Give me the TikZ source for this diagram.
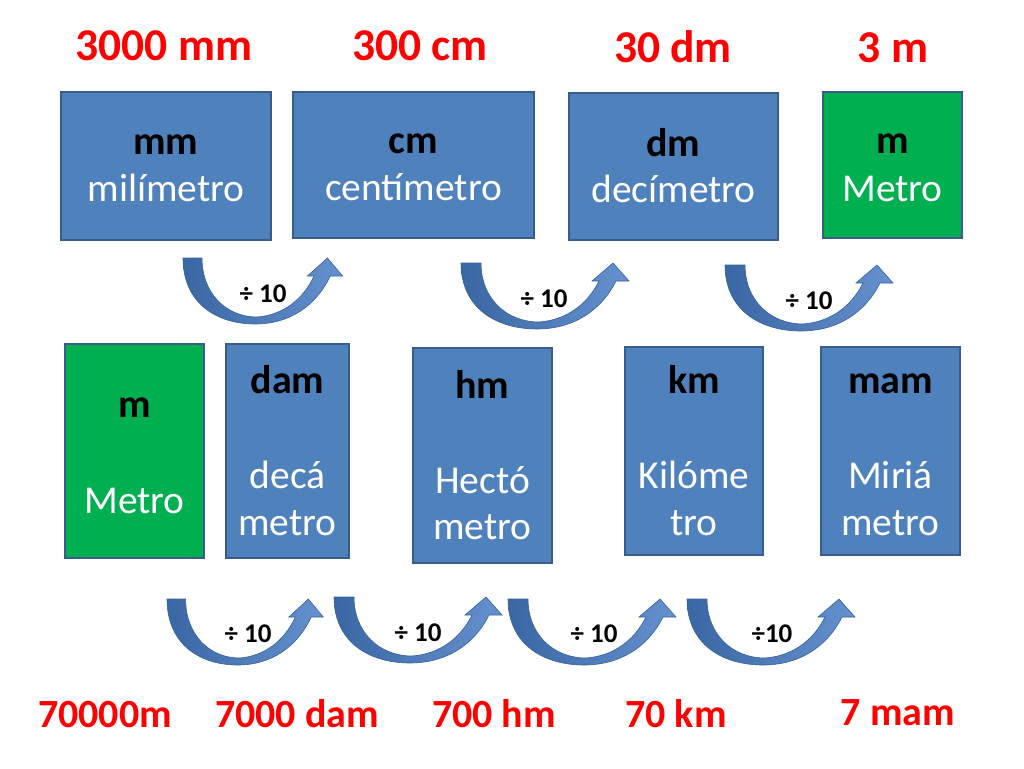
\documentclass[tikz,border=0pt]{standalone}
\usepackage{fontspec}
\setmainfont{Carlito}
\definecolor{boxblue}{HTML}{4F81BD}
\definecolor{boxedge}{HTML}{385D8A}
\definecolor{boxgreen}{HTML}{00B050}
\definecolor{titlered}{HTML}{FF0000}
\definecolor{arrowdark}{HTML}{3A67A3}
\definecolor{arrowlight}{HTML}{6592CF}
\definecolor{arrowedge}{HTML}{36619A}
\tikzset{
  unitbox/.style={draw=boxedge, line width=1.5pt, fill=boxblue, inner sep=0pt},
  greenbox/.style={unitbox, fill=boxgreen},
  abbr/.style={font=\fontsize{40}{42}\selectfont\bfseries, text=black, anchor=base, inner sep=0pt},
  uname/.style={font=\fontsize{39.5}{42}\selectfont, text=white, anchor=base, inner sep=0pt},
  totaltop/.style={font=\fontsize{45.5}{48}\selectfont\bfseries, text=titlered, anchor=base, inner sep=0pt},
  totalbot/.style={font=\fontsize{40}{44}\selectfont\bfseries, text=titlered, anchor=base, inner sep=0pt},
  divlabel/.style={font=\fontsize{27}{29}\selectfont\bfseries, text=black, anchor=base, inner sep=0pt},
  curvearrow/.style={draw=arrowedge, line width=0.6pt, left color=arrowdark, right color=arrowlight},
}
\newcommand\bendarrow[3]{%
  \begin{scope}[shift={(#1,#2)}, xscale=#3]
    \path[curvearrow] (0,0) -- (20,0)
      .. controls (20,35) and (45,59) .. (78,59)
      .. controls (105,57) and (126,42) .. (138,18)
      -- (131,18) -- (152,0) -- (168,18) -- (155,18)
      .. controls (140,48) and (112,66) .. (76,66)
      .. controls (35,66) and (0,45) .. (0,0) -- cycle;
  \end{scope}}
\begin{document}
\begin{tikzpicture}[x=1pt,y=-1pt]
\fill[white] (0,0) rectangle (1024,768);
\useasboundingbox (0,0) rectangle (1024,768);

% top totals
\node[totaltop] (t1) at (164,60) {3000 mm};
\node[totaltop] (t2) at (420,60) {300 cm};
\node[totaltop] (t3) at (673,63) {30 dm};
\node[totaltop] (t4) at (893,63) {3 m};

% top boxes
\node[unitbox, minimum width=210, minimum height=148] (bmm) at (166,166) {};
\node[unitbox, minimum width=241, minimum height=146] (bcm) at (413.5,165) {};
\node[unitbox, minimum width=209, minimum height=147] (bdm) at (673.5,166.5) {};
\node[greenbox, minimum width=139, minimum height=146] (bm1) at (892.5,165) {};

\node[abbr] (amm) at (166,154) {mm};
\node[uname] (nmm) at (166,201) {milímetro};
\node[abbr] (acm) at (413.5,153) {cm};
\node[uname] (ncm) at (413.5,200) {centímetro};
\node[abbr] (adm) at (673.5,156) {dm};
\node[uname] (ndm) at (673.5,202) {decímetro};
\node[abbr] (am1) at (892.5,153) {m};
\node[uname] (nm1) at (892.5,201) {Metro};

% top arrows
\bendarrow{183}{258}{0.95}
\bendarrow{461}{263}{1}
\bendarrow{725}{265}{1}
\node[divlabel] (d1) at (263,302) {÷ 10};
\node[divlabel] (d2) at (544,307) {÷ 10};
\node[divlabel] (d3) at (809,309) {÷ 10};

% bottom boxes
\node[greenbox, minimum width=139, minimum height=214] (bm2) at (134.5,451) {};
\node[unitbox, minimum width=123, minimum height=214] (bdam) at (287.5,451) {};
\node[unitbox, minimum width=139, minimum height=215] (bhm) at (482.5,455.5) {};
\node[unitbox, minimum width=138, minimum height=208] (bkm) at (694,451) {};
\node[unitbox, minimum width=139, minimum height=208] (bmam) at (890.5,451) {};

\node[abbr] (am2) at (134.5,417) {m};
\node[uname] (nm2) at (134.5,513) {Metro};
\node[abbr] (adam) at (287.5,393) {dam};
\node[uname] (ndam1) at (287.5,488) {decá};
\node[uname] (ndam2) at (287.5,535) {metro};
\node[abbr] (ahm) at (482.5,398) {hm};
\node[uname] (nhm1) at (482.5,493) {Hectó};
\node[uname] (nhm2) at (482.5,539) {metro};
\node[abbr] (akm) at (694,393) {km};
\node[uname] (nkm1) at (694,488) {Kilóme};
\node[uname] (nkm2) at (694,535) {tro};
\node[abbr] (amam) at (890.5,393) {mam};
\node[uname] (nmam1) at (890.5,488) {Miriá};
\node[uname] (nmam2) at (890.5,535) {metro};

% bottom arrows
\bendarrow{167}{599}{0.93}
\bendarrow{334}{597}{1}
\bendarrow{508}{599}{1}
\bendarrow{687}{599}{1}
\node[divlabel] (e1) at (248,642) {÷ 10};
\node[divlabel] (e2) at (418,641) {÷ 10};
\node[divlabel] (e3) at (594,642) {÷ 10};
\node[divlabel] (e4) at (772,642) {÷10};

% bottom totals
\node[totalbot] (u1) at (105,727) {70000m};
\node[totalbot] (u2) at (297,727) {7000 dam};
\node[totalbot] (u3) at (494,727) {700 hm};
\node[totalbot] (u4) at (676,727) {70 km};
\node[totalbot] (u5) at (898,725) {7 mam};
\end{tikzpicture}
\end{document}
